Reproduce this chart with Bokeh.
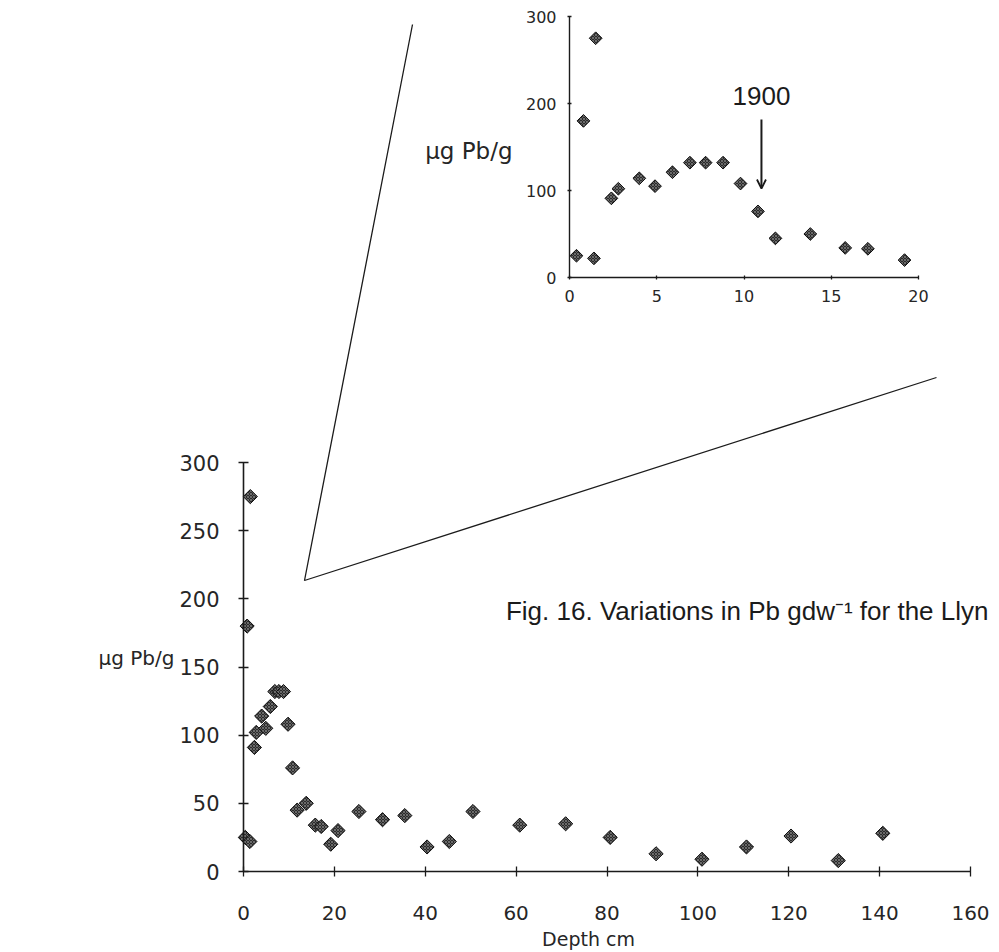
import math
from bokeh.plotting import figure
from bokeh.models import (LinearAxis, Range1d, FixedTicker, Label, Arrow,
                          OpenHead, ColumnDataSource)
from bokeh.embed import file_html
from bokeh.resources import INLINE

# ---------------- data ----------------
depth_cm = [0.4, 0.8, 1.4, 1.5, 2.4, 2.8, 4.0, 4.9, 5.9, 6.9, 7.8, 8.8, 9.8,
            10.8, 11.8, 13.8, 15.8, 17.1, 19.2, 20.8, 25.4, 30.6, 35.5, 40.4,
            45.3, 50.5, 60.8, 70.9, 80.7, 90.8, 100.9, 110.7, 120.5, 130.9,
            140.7]
pb_ug_per_g = [25, 180, 22, 275, 91, 102, 114, 105, 121, 132, 132, 132, 108,
               76, 45, 50, 34, 33, 20, 30, 44, 38, 41, 18, 22, 44, 34, 35,
               25, 13, 9, 18, 26, 8, 28]

main_x_ticks = [0, 20, 40, 60, 80, 100, 120, 140, 160]
main_y_ticks = [0, 50, 100, 150, 200, 250, 300]
inset_x_ticks = [0, 5, 10, 15, 20]
inset_y_ticks = [0, 100, 200, 300]
inset_max_depth = 20

marker_year = "1900"
marker_year_depth = 11

y_title = "\u00b5g Pb/g"
x_title = "Depth cm"
caption = "Fig. 16. Variations in Pb gdw\u207b\u00b9 for the Llyn"

# ---------------- layout ----------------
W, H = 999, 952
INK = "#1b1b1b"
LABEL_INK = "#262626"

# (value0, pixel0, value1, pixel1)
MAIN_X = (0, 243, 160, 970)
MAIN_Y = (0, 871, 300, 462)
INSET_X = (0, 569, 20, 918)
INSET_Y = (0, 277, 300, 16)


def hrange(v0, p0, v1, p1):
    s = (v1 - v0) / (p1 - p0)
    return Range1d(start=v0 - p0 * s, end=v0 + (W - p0) * s)


def vrange(v0, p0, v1, p1):
    s = (v1 - v0) / (p0 - p1)
    return Range1d(start=v0 - (H - p0) * s, end=v0 + p0 * s)


def px_main(px, py):
    sx = (MAIN_X[2] - MAIN_X[0]) / (MAIN_X[3] - MAIN_X[1])
    sy = (MAIN_Y[2] - MAIN_Y[0]) / (MAIN_Y[1] - MAIN_Y[3])
    return MAIN_X[0] + (px - MAIN_X[1]) * sx, MAIN_Y[0] + (MAIN_Y[1] - py) * sy


def px_inset(px, py):
    sx = (INSET_X[2] - INSET_X[0]) / (INSET_X[3] - INSET_X[1])
    sy = (INSET_Y[2] - INSET_Y[0]) / (INSET_Y[1] - INSET_Y[3])
    return INSET_X[0] + (px - INSET_X[1]) * sx, INSET_Y[0] + (INSET_Y[1] - py) * sy


p = figure(width=W, height=H, x_range=hrange(*MAIN_X), y_range=vrange(*MAIN_Y),
           x_axis_location=None, y_axis_location=None, toolbar_location=None,
           output_backend="svg", min_border=0, outline_line_color=None)
p.grid.visible = False
p.extra_x_ranges = {"ix": hrange(*INSET_X)}
p.extra_y_ranges = {"iy": vrange(*INSET_Y)}


def style_axis(ax, size, tin, tout, standoff, font="DejaVu Sans", lw=1.6):
    ax.axis_line_color = INK
    ax.axis_line_width = lw
    ax.major_tick_line_color = INK
    ax.major_tick_line_width = 1.3
    ax.major_tick_in = tin
    ax.major_tick_out = tout
    ax.minor_tick_line_color = None
    ax.major_label_text_font = font
    ax.major_label_text_font_size = f"{size}px"
    ax.major_label_text_color = LABEL_INK
    ax.major_label_standoff = standoff


# main axes
mxa = LinearAxis(fixed_location=0, bounds=(0, 160),
                 ticker=FixedTicker(ticks=main_x_ticks, minor_ticks=[]))
style_axis(mxa, 20, 5, 5, 29)
p.add_layout(mxa, "below")
mya = LinearAxis(fixed_location=0, bounds=(0, 300),
                 ticker=FixedTicker(ticks=main_y_ticks, minor_ticks=[]))
style_axis(mya, 21, 5, 5, 19)
p.add_layout(mya, "left")

# inset axes
ixa = LinearAxis(x_range_name="ix", y_range_name="iy", fixed_location=0,
                 bounds=(0, 20),
                 ticker=FixedTicker(ticks=inset_x_ticks, minor_ticks=[]))
style_axis(ixa, 16, 2, 2, 10, lw=1.4)
p.add_layout(ixa, "below")
iya = LinearAxis(x_range_name="ix", y_range_name="iy", fixed_location=0,
                 bounds=(0, 300),
                 ticker=FixedTicker(ticks=inset_y_ticks, minor_ticks=[]))
style_axis(iya, 16, 2, 2, 11, lw=1.4)
p.add_layout(iya, "left")

# callout connector (zoom wedge), in main-plot units
cx0, cy0 = px_main(412, 24)
cx1, cy1 = px_main(304, 580)
cx2, cy2 = px_main(936, 377)
p.line([cx0, cx1, cx2], [cy0, cy1, cy2], line_color=INK, line_width=1.3)

marker_style = dict(marker="square", angle=math.pi / 4, fill_color="#2b2b2b",
                    line_color="#0e0e0e", line_width=1,
                    hatch_pattern="x", hatch_color="#858585", hatch_scale=3,
                    hatch_weight=0.7)

src_main = ColumnDataSource(dict(x=depth_cm, y=pb_ug_per_g))
p.scatter("x", "y", source=src_main, size=10, **marker_style)

ins = [i for i, d in enumerate(depth_cm) if d <= inset_max_depth]
src_inset = ColumnDataSource(dict(x=[depth_cm[i] for i in ins],
                                  y=[pb_ug_per_g[i] for i in ins]))
p.scatter("x", "y", source=src_inset, size=9, x_range_name="ix",
          y_range_name="iy", **marker_style)

# 1900 arrow + label
_, ay0 = px_inset(761, 119)
_, ay1 = px_inset(761, 188)
p.add_layout(Arrow(end=OpenHead(size=9, line_color=INK, line_width=1.8),
                   x_start=marker_year_depth, y_start=ay0,
                   x_end=marker_year_depth, y_end=ay1,
                   x_range_name="ix", y_range_name="iy",
                   line_color=INK, line_width=2))
_, ly = px_inset(761, 95)
p.add_layout(Label(x=marker_year_depth, y=ly, text=marker_year,
                   x_range_name="ix", y_range_name="iy",
                   text_align="center", text_baseline="middle",
                   text_font="Liberation Sans", text_font_size="26px",
                   text_color=INK))

# axis titles
ix, iy = px_inset(512, 150)
p.add_layout(Label(x=ix, y=iy, text=y_title, x_range_name="ix",
                   y_range_name="iy", text_align="right",
                   text_baseline="middle", text_font="DejaVu Sans",
                   text_font_size="23px", text_color=LABEL_INK))
mx, my = px_main(98, 657)
p.add_layout(Label(x=mx, y=my, text=y_title, text_align="left",
                   text_baseline="middle", text_font="DejaVu Sans",
                   text_font_size="20px", text_color=LABEL_INK))
dx, dy = px_main(588, 938)
p.add_layout(Label(x=dx, y=dy, text=x_title, text_align="center",
                   text_baseline="middle", text_font="DejaVu Sans",
                   text_font_size="19px", text_color=LABEL_INK))

# caption (runs to the right edge, as in the reference)
fx, fy = px_main(988, 610)
p.add_layout(Label(x=fx, y=fy, text=caption, text_align="right",
                   text_baseline="middle", text_font="Liberation Sans",
                   text_font_size="26px", text_color=INK))

open("out.html", "w").write(file_html(p, INLINE))
